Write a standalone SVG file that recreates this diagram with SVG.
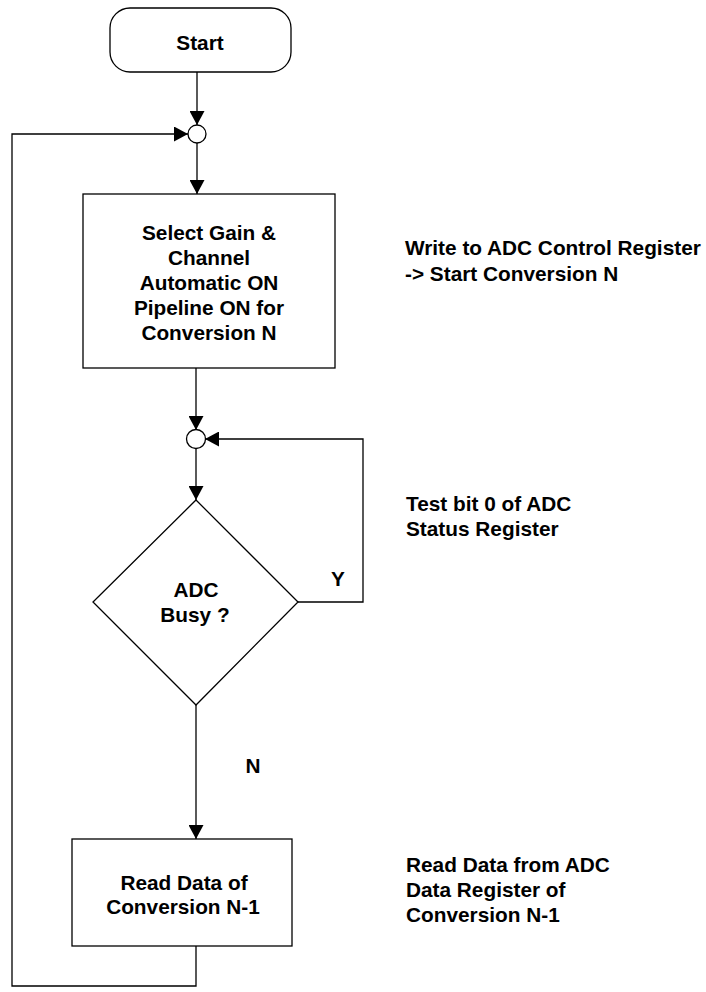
<svg xmlns="http://www.w3.org/2000/svg" width="706" height="992" viewBox="0 0 706 992">
<style>
.shape{fill:#fff;stroke:#000;stroke-width:1.3}
.conn{fill:none;stroke:#000;stroke-width:1.3}
text{font-family:"Liberation Sans",Arial,sans-serif;font-size:20.8px;font-weight:bold;fill:#000}
.c{text-anchor:middle}
</style>
<defs>
<marker id="arr" markerUnits="userSpaceOnUse" markerWidth="15" markerHeight="15" refX="14" refY="7.5" orient="auto">
<path d="M0,0 L14,7.5 L0,15 z" fill="#000"/>
</marker>
</defs>
<g id="connectors">
<line class="conn" x1="197" y1="72" x2="197" y2="125" marker-end="url(#arr)"/>
<line class="conn" x1="197" y1="143" x2="197" y2="194" marker-end="url(#arr)"/>
<line class="conn" x1="196" y1="368" x2="196" y2="430" marker-end="url(#arr)"/>
<line class="conn" x1="196" y1="449" x2="196" y2="500" marker-end="url(#arr)"/>
<polyline class="conn" points="298,602 363,602 363,439 205,439" marker-end="url(#arr)"/>
<line class="conn" x1="196" y1="705" x2="196" y2="839" marker-end="url(#arr)"/>
<polyline class="conn" points="196,946 196,986 12,986 12,134 188,134" marker-end="url(#arr)"/>
</g>
<g id="start">
<rect class="shape" x="110" y="8" width="181" height="64" rx="20" ry="20"/>
<text class="c" x="200" y="50">Start</text>
</g>
<g id="merge1">
<circle class="shape" cx="197" cy="134" r="9"/>
</g>
<g id="select">
<rect class="shape" x="83" y="194" width="252" height="174"/>
<text class="c" x="209" y="240">Select Gain &amp;</text>
<text class="c" x="209" y="265">Channel</text>
<text class="c" x="209" y="290">Automatic ON</text>
<text class="c" x="209" y="315">Pipeline ON for</text>
<text class="c" x="209" y="340">Conversion N</text>
</g>
<g id="merge2">
<circle class="shape" cx="196" cy="439" r="9.5"/>
</g>
<g id="busy">
<polygon class="shape" points="196,500 298,602 196,705 93,602"/>
<text class="c" x="196" y="597">ADC</text>
<text class="c" x="195" y="622">Busy ?</text>
</g>
<g id="read">
<rect class="shape" x="72" y="839" width="220" height="107"/>
<text class="c" x="184" y="890">Read Data of</text>
<text class="c" x="183" y="914">Conversion N-1</text>
</g>
<g id="labels">
<text class="c" x="338" y="586">Y</text>
<text class="c" x="253" y="773">N</text>
<text x="405" y="255">Write to ADC Control Register</text>
<text x="405" y="281">-&gt; Start Conversion N</text>
<text x="406" y="511">Test bit 0 of ADC</text>
<text x="406" y="536">Status Register</text>
<text x="406" y="872">Read Data from ADC</text>
<text x="406" y="897">Data Register of</text>
<text x="406" y="922">Conversion N-1</text>
</g>
</svg>
